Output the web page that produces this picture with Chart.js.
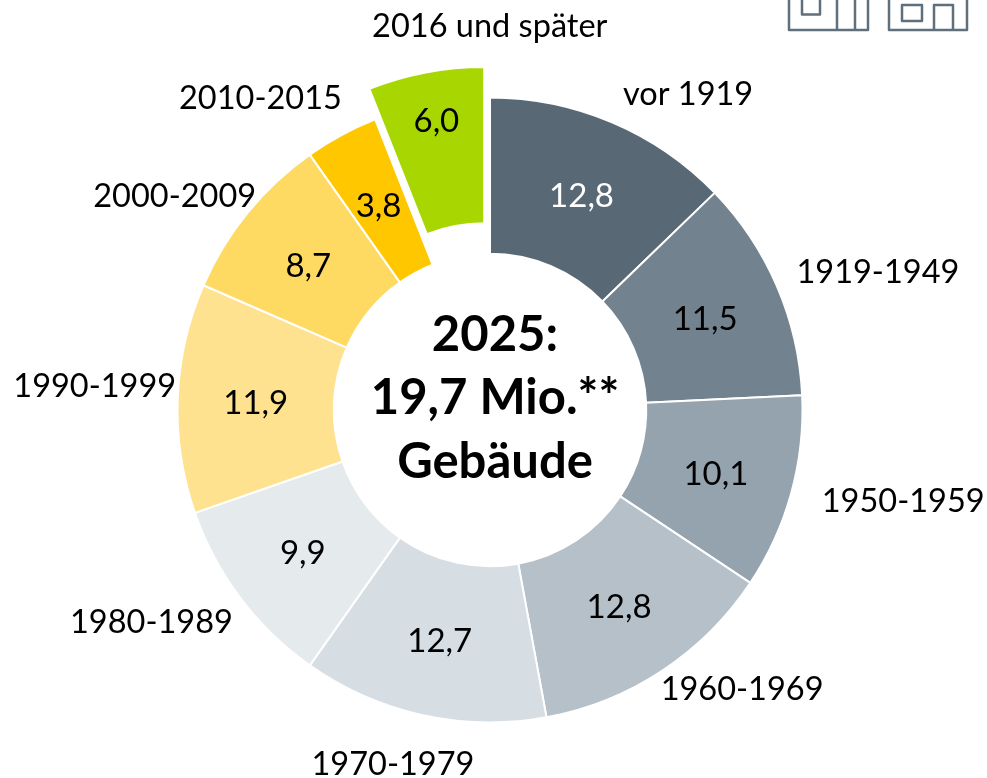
<!DOCTYPE html>
<html>
<head>
<meta charset="utf-8">
<style>html,body{margin:0;padding:0;background:#fff}#w{position:relative;width:987px;height:778px}</style>
<script src="https://cdn.jsdelivr.net/npm/chart.js@4/dist/chart.umd.min.js"></script>
</head>
<body>
<div id="w"><canvas id="c" width="987" height="778"></canvas></div>
<script>
const categories = ['vor 1919','1919-1949','1950-1959','1960-1969','1970-1979','1980-1989','1990-1999','2000-2009','2010-2015','2016 und später'];
const shares = [12.8,11.5,10.1,12.8,12.7,9.9,11.9,8.7,3.8,6.0];
const valueLabels = ['12,8','11,5','10,1','12,8','12,7','9,9','11,9','8,7','3,8','6,0'];
const sliceColors = ['#586875','#72838F','#95A3AF','#B5C0C9','#D6DDE3','#E5EAED','#FFE28F','#FFDA63','#FFC700','#A7D600'];
const valueColors = ['#ffffff','#000','#000','#000','#000','#000','#000','#000','#000','#000'];
const centerLines = ['2025:','19,7 Mio.**','Gebäude'];

const FONT = 'Lato, Carlito, sans-serif';
const explodedIndex = 9, explodeBy = 31;
const categoryShift = [[76,-28],[101,-14],[112,8],[80,19],[-30,49],[-89,24],[-83,-12],[-73,-16],[-81,-37],[64,-46]];
const valueShift = {2:[0,2],7:[0,4],8:[0,3],9:[-4,-28]};

const decor = {
  id:'decor',
  afterDatasetsUpdate(chart){
    const arc = chart.getDatasetMeta(0).data[explodedIndex];
    const mid = (arc.startAngle + arc.endAngle)/2;
    arc.x += Math.cos(mid)*explodeBy;
    arc.y += Math.sin(mid)*explodeBy;
  },
  afterDraw(chart){
    const ctx = chart.ctx, arcs = chart.getDatasetMeta(0).data;
    ctx.save();
    ctx.textAlign='center'; ctx.textBaseline='middle';
    arcs.forEach((arc,i)=>{
      const mid=(arc.startAngle+arc.endAngle)/2;
      const c=arc.getCenterPoint(), s=valueShift[i]||[0,2];
      ctx.font='33px '+FONT; ctx.fillStyle=valueColors[i];
      ctx.fillText(valueLabels[i],c.x+s[0],c.y+s[1]);
      const ox=arc.x+Math.cos(mid)*arc.outerRadius, oy=arc.y+Math.sin(mid)*arc.outerRadius;
      ctx.font='32.5px '+FONT; ctx.fillStyle='#000';
      ctx.fillText(categories[i],ox+categoryShift[i][0],oy+categoryShift[i][1]);
    });
    const a0=arcs[0];
    ctx.font='bold 49px '+FONT; ctx.fillStyle='#000';
    centerLines.forEach((t,i)=>ctx.fillText(t,a0.x+5,a0.y-75+i*63.5));
    // building icons, cut by the top edge
    ctx.strokeStyle='#5F6F7C'; ctx.lineWidth=2.5; ctx.lineJoin='round';
    ctx.beginPath();
    ctx.moveTo(789,-4);ctx.lineTo(789,30);ctx.lineTo(868,30);ctx.lineTo(868,-4);
    ctx.moveTo(802,-4);ctx.lineTo(802,14.5);ctx.lineTo(820,14.5);ctx.lineTo(820,-4);
    ctx.moveTo(837,-4);ctx.lineTo(837,30);
    ctx.moveTo(855,-4);ctx.lineTo(855,30);
    ctx.moveTo(889,-4);ctx.lineTo(889,30);ctx.lineTo(967,30);ctx.lineTo(967,-4);
    ctx.rect(902,5,20,16);
    ctx.moveTo(934,30);ctx.lineTo(934,5);ctx.lineTo(953,5);ctx.lineTo(953,30);
    ctx.stroke();
    ctx.restore();
  }
};

new Chart(document.getElementById('c'),{
  type:'doughnut',
  data:{labels:categories,datasets:[{data:shares,backgroundColor:sliceColors,borderColor:'#fff',borderWidth:2}]},
  options:{
    responsive:false,animation:false,events:[],
    radius:312.5,cutout:'50%',
    layout:{padding:{left:0,right:7,top:42,bottom:0}},
    plugins:{legend:{display:false},tooltip:{enabled:false}}
  },
  plugins:[decor]
});
</script>
</body>
</html>
